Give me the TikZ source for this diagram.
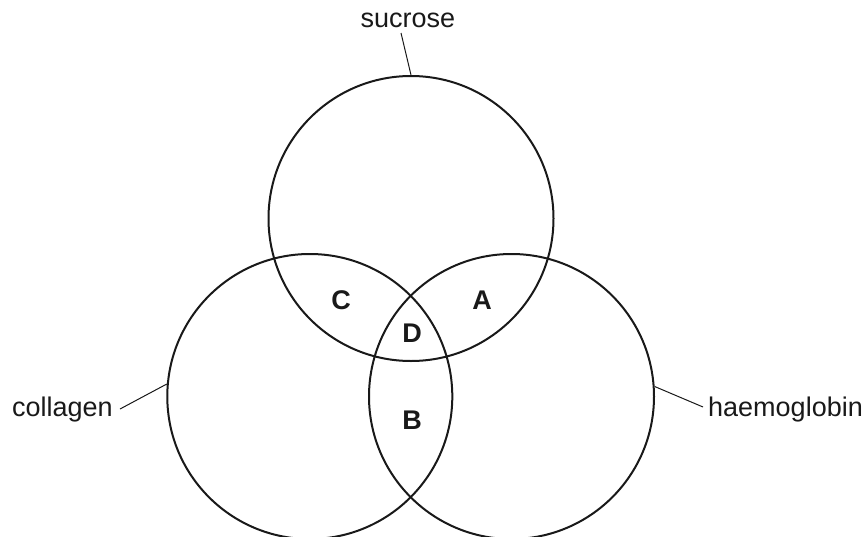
\documentclass[tikz,border=0pt]{standalone}
\usepackage{fontspec}
\setmainfont{Liberation Sans}
\begin{document}
\begin{tikzpicture}[x=1pt,y=-1pt,
  set/.style={draw=black!90,line width=2pt,circle,minimum size=285pt,inner sep=0pt},
  lbl/.style={font=\fontsize{27}{30}\selectfont,text=black!90,inner sep=0pt},
  reg/.style={font=\fontsize{27}{30}\selectfont\bfseries,text=black!90,inner sep=0pt},
  lead/.style={draw=black!90,line width=1pt}]
\useasboundingbox (0,0) rectangle (868,536);
\begin{scope}
\clip (0,0) rectangle (868,536);
\node[set] (S) at (411,218.5) {};
\node[set] (L) at (309.8,396.5) {};
\node[set] (R) at (511.5,396.5) {};
\end{scope}
\node[lbl,anchor=base] (ts) at (408,27) {sucrose};
\node[lbl,anchor=base west] (tc) at (12,416) {collagen};
\node[lbl,anchor=base west] (th) at (708,416) {haemoglobin};
\coordinate (s1) at (401,33);
\coordinate (c1) at (120,409);
\coordinate (h1) at (703,407);
\draw[lead] (s1) -- (S.north);
\draw[lead] (c1) -- (L.175);
\draw[lead] (h1) -- (R.4);
\node[reg] (A) at (482,300) {A};
\node[reg] (C) at (341,300) {C};
\node[reg] (D) at (412,333) {D};
\node[reg] (B) at (412,420) {B};
\end{tikzpicture}
\end{document}
